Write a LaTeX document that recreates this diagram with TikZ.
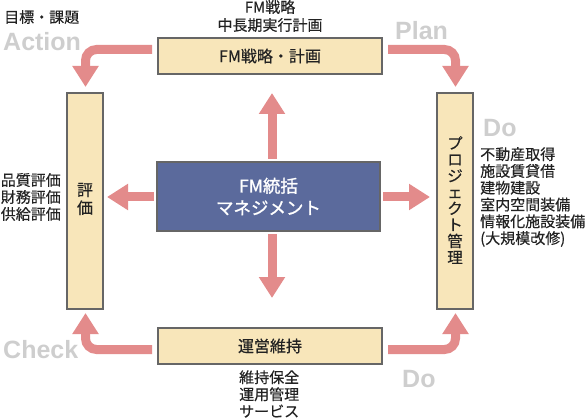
\documentclass[tikz,border=0pt]{standalone}
\usepackage{fontspec}
\setmainfont{Noto Sans CJK JP}[FakeBold=0.35]
\newfontfamily\cfont{Noto Sans CJK JP}[FakeBold=1.2]
\newfontfamily\pdcafont{Liberation Sans Bold}
\usetikzlibrary{arrows.meta,calc}
\definecolor{arrowpink}{RGB}{227,139,139}
\definecolor{boxfill}{RGB}{248,230,186}
\definecolor{boxline}{RGB}{102,102,102}
\definecolor{cfill}{RGB}{91,106,156}
\definecolor{pdcagray}{RGB}{206,206,206}
\definecolor{txt}{RGB}{34,34,34}
\tikzset{
  ybox/.style={draw=boxline, line width=2pt, fill=boxfill, inner sep=0pt, text=txt},
  hbox/.style={ybox, minimum width=224pt, minimum height=36pt},
  vbox/.style={ybox, minimum width=36pt, minimum height=216pt},
  cbox/.style={draw=boxline, line width=2pt, fill=cfill, inner sep=0pt,
     minimum width=223pt, minimum height=69pt, text=white,
     font=\cfont\fontsize{17.5}{22}\selectfont, align=center},
  pa/.style={draw=arrowpink, line width=9pt, rounded corners=11pt,
     -{Triangle[width=25pt,length=21pt]}},
  lbl/.style={text=txt, inner sep=0pt, font=\fontsize{15}{17}\selectfont},
  boxtext/.style={text=txt, inner sep=0pt, font=\fontsize{16}{17}\selectfont},
  pdca/.style={text=pdcagray, inner sep=0pt, font=\pdcafont\fontsize{25}{25}\selectfont}
}
\begin{document}
\begin{tikzpicture}[x=1pt,y=-1pt]
\useasboundingbox (0,0) rectangle (585,419);
% boxes
\node[hbox, boxtext] (top) at (270,56) {FM戦略・計画};
\node[hbox, boxtext] (bottom) at (270,346) {運営維持};
\node[vbox] (left) at (85,201) {};
\node[vbox] (right) at (455,201) {};
\node[cbox] (cb) at (268.5,196.5) {FM統括\\マネジメント};
% vertical texts
\node[boxtext, align=center, font=\fontsize{16}{18}\selectfont] (lefttext) at (85,199) {評\\価};
\node[boxtext, align=center, font=\fontsize{15.5}{16.3}\selectfont] (righttext) at (455,200) {プ\\ロ\\ジ\\ェ\\ク\\ト\\管\\理};
% outer labels
\node[lbl, align=center, font=\fontsize{15}{18}\selectfont] (toplabel) at (270,16) {FM戦略\\中長期実行計画};
\node[lbl, anchor=west] (goal) at (4,17) {目標・課題};
\node[lbl, align=right, anchor=east] (evals) at (61,197) {品質評価\\財務評価\\供給評価};
\node[lbl, align=left, anchor=west, font=\fontsize{15}{16.8}\selectfont] (projs) at (480,197) {不動産取得\\施設賃貸借\\建物建設\\室内空間装備\\情報化施設装備\\(大規模改修)};
\node[lbl, align=left, anchor=west] (ops) at (239,394) {維持保全\\運用管理\\サービス};
% PDCA labels
\node[pdca, anchor=base west] (act) at (3,51) {Action};
\node[pdca, anchor=base west] (plan) at (395,40) {Plan};
\node[pdca, anchor=base west] (do1) at (483,137) {Do};
\node[pdca, anchor=base west] (chk) at (3,358) {Check};
\node[pdca, anchor=base west] (do2) at (402,387) {Do};
% cycle arrows
\draw[pa] ($(top.west)+(-5,-6.5)$) -| ($(left.north)+(0.5,-5)$);
\draw[pa] ($(top.east)+(5,-6.5)$) -| ($(right.north)+(0.5,-5)$);
\draw[pa] ($(bottom.west)+(-5,3.5)$) -| ($(left.south)+(0.5,3)$);
\draw[pa] ($(bottom.east)+(5,3.5)$) -| ($(right.south)+(0.5,3)$);
% centre arrows
\draw[pa] ($(cb.north)+(3.5,-2)$) -- ($(cb.north |- top.south)+(3.5,18)$);
\draw[pa] ($(cb.south)+(3.5,2)$) -- ($(cb.south |- bottom.north)+(3.5,-29)$);
\draw[pa] ($(cb.west)+(-2,0.5)$) -- ($(cb.west -| left.east)+(3,0.5)$);
\draw[pa] ($(cb.east)+(2,0.5)$) -- ($(cb.east -| right.west)+(-6,0.5)$);
\end{tikzpicture}
\end{document}
